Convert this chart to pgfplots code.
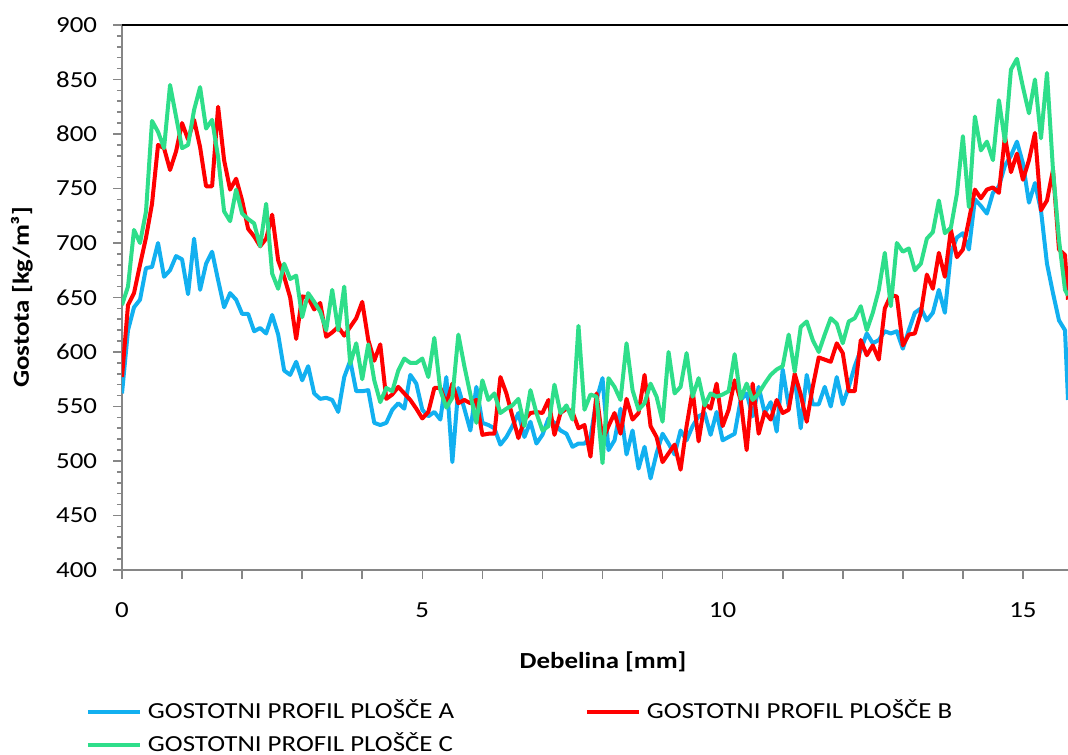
\documentclass[border=0pt]{standalone}
\usepackage{fontspec}
\setmainfont{Carlito}[FakeStretch=1.17]
\usepackage{pgfplots}
\usepackage{pgfplotstable}
\pgfplotsset{compat=1.18}

\definecolor{profA}{RGB}{18,176,240}
\definecolor{profB}{RGB}{255,0,0}
\definecolor{profC}{RGB}{46,222,138}
\definecolor{axisgray}{RGB}{134,134,134}

% density profiles of the three boards, thickness in mm, density in kg/m^3
\pgfplotstableread{
x a b c
0.0 562 577 643
0.1 620 643 660
0.2 641 654 712
0.3 648 680 700
0.4 677 705 729
0.5 678 736 812
0.6 700 790 802
0.7 669 787 787
0.8 675 767 845
0.9 688 784 816
1.0 685 810 787
1.1 653 795 790
1.2 704 813 822
1.3 657 788 843
1.4 681 752 805
1.5 692 752 813
1.6 666 825 779
1.7 641 776 729
1.8 654 749 720
1.9 648 759 749
2.0 635 739 727
2.1 635 713 722
2.2 619 706 718
2.3 622 697 697
2.4 617 704 736
2.5 634 726 672
2.6 616 684 658
2.7 583 669 681
2.8 579 650 667
2.9 591 612 670
3.0 574 651 632
3.1 587 650 654
3.2 562 639 646
3.3 557 645 637
3.4 558 614 620
3.5 556 618 657
3.6 545 623 620
3.7 577 615 660
3.8 592 623 589
3.9 564 631 608
4.0 564 646 575
4.1 565 611 607
4.2 535 592 574
4.3 533 607 554
4.4 535 557 567
4.5 547 561 564
4.6 553 568 583
4.7 548 562 594
4.8 579 556 590
4.9 571 548 590
5.0 547 539 594
5.1 541 545 577
5.2 545 567 613
5.3 538 567 565
5.4 577 552 549
5.5 499 571 558
5.6 567 553 616
5.7 548 556 587
5.8 528 553 561
5.9 568 556 535
6.0 535 524 574
6.1 533 525 556
6.2 530 525 562
6.3 515 577 544
6.4 522 562 548
6.5 532 541 551
6.6 544 521 557
6.7 522 538 532
6.8 536 544 565
6.9 516 545 544
7.0 524 544 528
7.1 539 556 532
7.2 535 524 570
7.3 528 544 544
7.4 525 548 551
7.5 513 545 538
7.6 516 530 624
7.7 516 533 547
7.8 522 504 561
7.9 556 562 559
8.0 576 519 498
8.1 510 532 576
8.2 519 544 568
8.3 548 525 556
8.4 506 557 608
8.5 528 538 565
8.6 493 544 547
8.7 513 579 553
8.8 484 532 571
8.9 507 522 559
9.0 525 499 536
9.1 516 507 600
9.2 506 515 562
9.3 528 492 568
9.4 519 532 599
9.5 532 565 559
9.6 541 518 576
9.7 544 553 551
9.8 524 548 562
9.9 545 571 559
10.0 519 532 561
10.1 522 547 564
10.2 525 574 598
10.3 556 556 557
10.4 562 510 571
10.5 541 571 556
10.6 568 525 562
10.7 544 545 571
10.8 554 538 579
10.9 527 556 584
11.0 584 544 587
11.1 550 547 616
11.2 577 580 582
11.3 530 561 623
11.4 579 536 628
11.5 552 568 611
11.6 552 595 600
11.7 568 593 616
11.8 550 591 631
11.9 577 608 626
12.0 552 599 608
12.1 568 564 628
12.2 587 564 631
12.3 602 611 642
12.4 617 597 620
12.5 608 606 636
12.6 611 593 657
12.7 619 640 691
12.8 617 652 642
12.9 619 651 700
13.0 603 606 692
13.1 620 616 695
13.2 636 617 675
13.3 640 636 681
13.4 629 671 704
13.5 636 658 710
13.6 657 691 739
13.7 636 669 709
13.8 691 712 714
13.9 705 687 745
14.0 709 694 798
14.1 694 721 733
14.2 740 749 816
14.3 734 741 785
14.4 727 749 793
14.5 746 751 776
14.6 752 746 831
14.7 771 798 793
14.8 780 765 859
14.9 793 782 869
15.0 773 758 843
15.1 737 776 819
15.2 755 801 850
15.3 730 730 796
15.4 681 739 856
15.5 654 767 767
15.6 629 694 703
15.7 620 689 657
15.75 556 648 652
}\profiles

\begin{document}
\begin{tikzpicture}
\begin{axis}[
  name=ax,
  at={(0,0)}, anchor=south west,
  scale only axis,
  width=709.5pt, height=408.75pt,
  xmin=0, xmax=15.75, ymin=400, ymax=900,
  axis lines*=left,
  axis line style={axisgray, line width=1.2pt},
  every tick/.style={axisgray, line width=1.2pt},
  tick align=outside,
  major tick length=6.5pt, minor tick length=3.8pt,
  xtick={0,...,15},
  xticklabels={0,,,,,5,,,,,10,,,,,15},
  ytick={400,450,...,900},
  minor y tick num=4,
  font=\fontsize{17.25}{20.7}\selectfont,
  /pgf/number format/assume math mode=true,
  xticklabel style={anchor=north, inner sep=0pt, yshift=-18pt},
  yticklabel style={anchor=east, inner sep=0pt, xshift=-12pt},
  xlabel={\bfseries Debelina [mm]},
  ylabel={\bfseries Gostota [kg/m³]},
  every axis x label/.style={at={(axis description cs:0.5,0)}, anchor=center, xshift=6pt, yshift=-69pt},
  every axis y label/.style={at={(axis description cs:0,0.5)}, rotate=90, anchor=center, yshift=75pt},
  legend columns=2,
  legend cell align=left,
  legend style={at={(axis description cs:0,0)}, anchor=north west,
    xshift=-27pt, yshift=-97.5pt, draw=none, fill=none,
    inner sep=0pt, outer sep=0pt, row sep=6.5pt,
    nodes={inner sep=0pt, text height=14pt, text depth=4pt}},
  legend image code/.code={\draw[line width=3pt] (0pt,0pt) -- (39pt,0pt);},
  line join=round,
]
\addplot[profA, line width=3pt, no markers] table[x=x, y=a] {\profiles};
\addlegendentry{\makebox[332.25pt][l]{\hspace*{4.5pt}GOSTOTNI PROFIL PLOŠČE A}}
\addplot[profB, line width=3pt, no markers] table[x=x, y=b] {\profiles};
\addlegendentry{\makebox[332.25pt][l]{\hspace*{4.5pt}GOSTOTNI PROFIL PLOŠČE B}}
\addplot[profC, line width=3pt, no markers] table[x=x, y=c] {\profiles};
\addlegendentry{\makebox[332.25pt][l]{\hspace*{4.5pt}GOSTOTNI PROFIL PLOŠČE C}}
\end{axis}
\draw[black, line width=0.8pt] (ax.north west) -- (ax.north east);
\pgfresetboundingbox
\path[use as bounding box] ([xshift=-91.5pt,yshift=-138.75pt]ax.south west) rectangle ([yshift=18.75pt]ax.north east);
\end{tikzpicture}
\end{document}
